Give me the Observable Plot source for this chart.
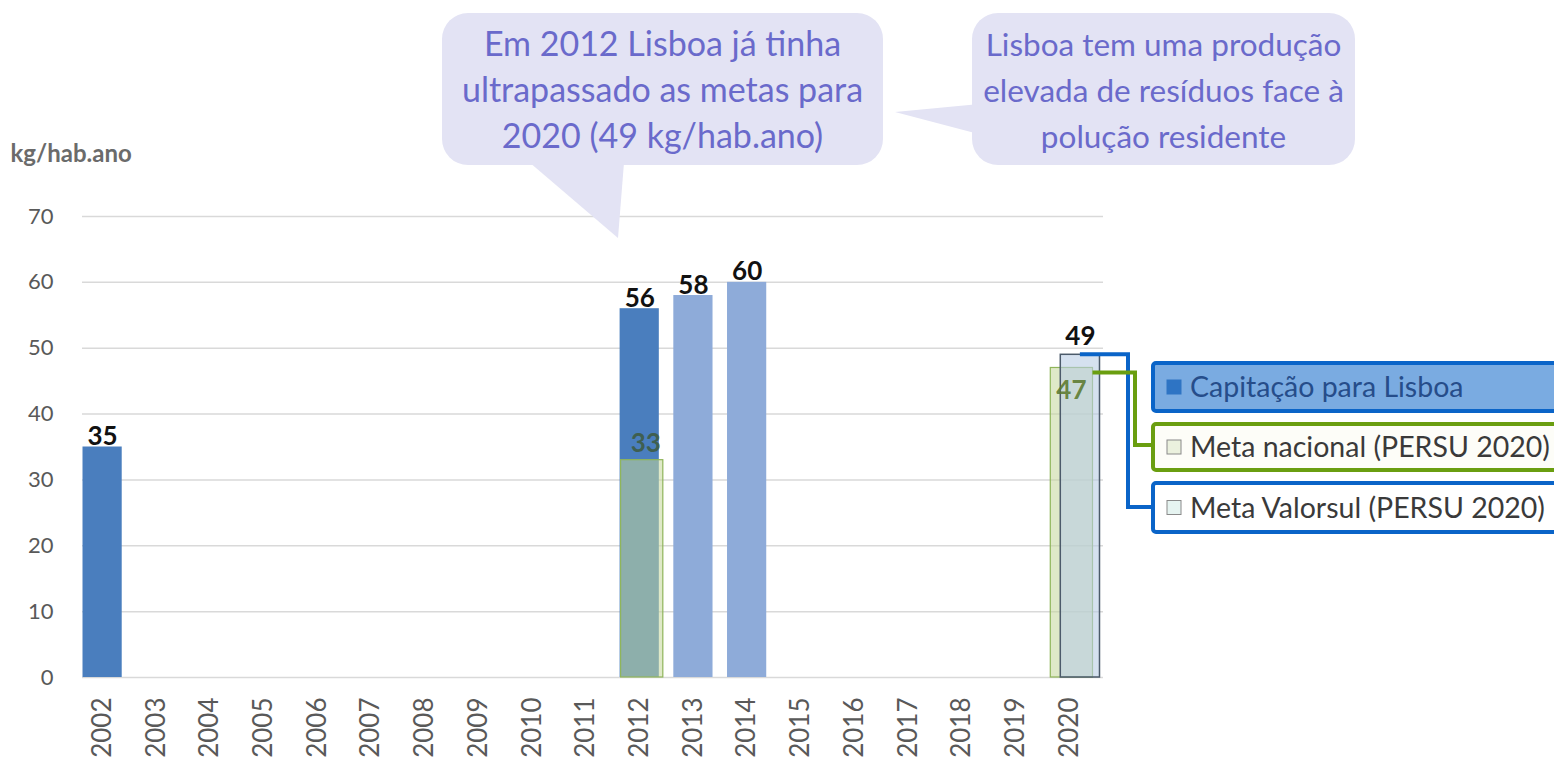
<!DOCTYPE html>
<html><head><meta charset="utf-8">
<script src="https://cdn.jsdelivr.net/npm/d3@7"></script>
<script src="https://cdn.jsdelivr.net/npm/@observablehq/plot@0.6"></script>
<style>
body{margin:0;background:#fff;}
#wrap{position:relative;width:1554px;height:767px;overflow:hidden;}
#wrap svg{position:absolute;left:0;top:0;}
</style></head><body><div id="wrap"></div>
<script>
// ---- data ----
const years = ["2002","2003","2004","2005","2006","2007","2008","2009","2010","2011","2012","2013","2014","2015","2016","2017","2018","2019","2020"];
const capitacaoYears = ["2002","2012"];
const capitacaoValues = [35, 56];
const capitacaoEstYears = ["2013","2014"];
const capitacaoEstValues = [58, 60];
const metaNacionalYears = ["2012","2020"];
const metaNacionalValues = [33, 47];
const metaValorsulYears = ["2020"];
const metaValorsulValues = [49];
const yTicks = [0,10,20,30,40,50,60,70];
const unitLabel = "kg/hab.ano";
const legendLabels = ["Capitação para Lisboa","Meta nacional (PERSU 2020)","Meta Valorsul (PERSU 2020)"];
const callout1Lines = ["Em 2012 Lisboa já tinha","ultrapassado as metas para","2020 (49 kg/hab.ano)"];
const callout2Lines = ["Lisboa tem uma produção","elevada de resíduos face à","polução residente"];

const rows = (ys, vs) => ys.map((y,i)=>({year:y, value:vs[i]}));
const cap = rows(capitacaoYears, capitacaoValues);
const capEst = rows(capitacaoEstYears, capitacaoEstValues);
const nac = rows(metaNacionalYears, metaNacionalValues);
const val = rows(metaValorsulYears, metaValorsulValues);

const FONT = "Lato, 'Open Sans', sans-serif";

const plot = Plot.plot({
  width:1554, height:767,
  marginTop:216, marginBottom:90, marginLeft:82, marginRight:451,
  style:{fontFamily:FONT, background:"transparent", overflow:"visible"},
  x:{type:"band", domain:years, range:[68,1103], padding:0.27, round:false},
  y:{domain:[0,70]},
  marks:[
    Plot.gridY(yTicks,{stroke:"#d9d9d9", strokeOpacity:1, strokeWidth:1.5}),
    Plot.axisY(yTicks,{tickSize:0, tickPadding:29, fontSize:22, fill:"#595959", label:null}),
    Plot.axisX({tickSize:0, tickPadding:20, tickRotate:-90, fontSize:26, fill:"#595959", label:null}),
    Plot.barY(cap,{x:"year", y:"value", fill:"#4a7ebe"}),
    Plot.barY(capEst,{x:"year", y:"value", fill:"#8eabd9"}),
    Plot.barY(nac,{x:"year", y:"value", fill:"#c4d79b", fillOpacity:0.55, stroke:"#8fb55a", strokeWidth:1.2, insetLeft:1, insetRight:-4}),
    Plot.barY(val,{x:"year", y:"value", fill:"#b9cde5", fillOpacity:0.6, stroke:"#4b5a6a", strokeWidth:1.5, insetLeft:11, insetRight:-11}),
    Plot.text(cap.concat(capEst),{x:"year", y:"value", text:"value", lineAnchor:"bottom", dy:-2, fontSize:26, fontWeight:"bold", fill:"#111"}),
    Plot.text(val,{x:"year", y:"value", text:"value", lineAnchor:"bottom", dy:-10, dx:11, fontSize:26, fontWeight:"bold", fill:"#111"}),
    Plot.text(nac.filter(d=>d.year==="2012"),{x:"year", y:"value", text:"value", lineAnchor:"bottom", dy:-8, dx:6, fontSize:26, fontWeight:"bold", fill:"#3d5a3c", fillOpacity:0.85}),
    Plot.text(nac.filter(d=>d.year==="2020"),{x:"year", y:"value", text:"value", lineAnchor:"top", dy:13, dx:2, fontSize:26, fontWeight:"bold", fill:"#5c7a2e", fillOpacity:0.9}),
    Plot.text([unitLabel],{frameAnchor:"top-left", text:d=>d, dx:-72, dy:-72, textAnchor:"start", fontSize:24, fontWeight:"bold", fill:"#6b6b6b"})
  ]
});
const wrap = document.getElementById("wrap");
wrap.appendChild(plot);

const xs = plot.scale("x"), ys = plot.scale("y");
const bw = xs.bandwidth;
const valX = xs.apply("2020") + 11 + (bw)/2;
const valY = ys.apply(metaValorsulValues[0]);
const nacRight = xs.apply("2020") + bw + 4;
const nacY = ys.apply(metaNacionalValues[1]) + 5;

const NS = "http://www.w3.org/2000/svg";
const ov = d3.select(wrap).append("svg").attr("xmlns",NS).attr("width",1554).attr("height",767)
  .style("font-family",FONT);

// callouts
const cfill = "#e3e3f4", ctext = "#6a6acb";
function callout(x,y,w,h,tail,lines,fs){
  ov.append("polygon").attr("points",tail.map(p=>p.join(",")).join(" ")).attr("fill",cfill);
  ov.append("rect").attr("x",x).attr("y",y).attr("width",w).attr("height",h).attr("rx",26).attr("fill",cfill);
  lines.forEach((t,i)=>{
    ov.append("text").attr("x",x+w/2).attr("y",y+43+i*46).attr("text-anchor","middle")
      .attr("font-size",fs).attr("fill",ctext).text(t);
  });
}
callout(442,13,441,152,[[515,150],[618,238],[625,150]],callout1Lines,34);
callout(972,13,383,152,[[990,103],[895,112],[990,137]],callout2Lines,31.5);

// connectors
ov.append("path").attr("d",`M${valX},${valY}H1128V507H1153`).attr("fill","none").attr("stroke","#0a64c8").attr("stroke-width",4);
ov.append("path").attr("d",`M${nacRight},${nacY}H1135V445H1153`).attr("fill","none").attr("stroke","#6a9e10").attr("stroke-width",4);

// legend boxes
const boxes = [
  {y:363,h:48,fill:"#7aabe1",stroke:"#0a64c8",sq:"#2e74c4",sqs:"#2e74c4",tc:"#264d8a"},
  {y:424,h:46,fill:"#fdfdf8",stroke:"#6a9e10",sq:"#ebf1de",sqs:"#8a8a8a",tc:"#3a3a3a"},
  {y:483,h:49,fill:"#ffffff",stroke:"#0a64c8",sq:"#e6f4f1",sqs:"#8a8a8a",tc:"#3a3a3a"}
];
boxes.forEach((b,i)=>{
  ov.append("rect").attr("x",1153).attr("y",b.y).attr("width",430).attr("height",b.h).attr("rx",3)
    .attr("fill",b.fill).attr("stroke",b.stroke).attr("stroke-width",4);
  ov.append("rect").attr("x",1167).attr("y",b.y+b.h/2-7).attr("width",14).attr("height",14)
    .attr("fill",b.sq).attr("stroke",b.sqs).attr("stroke-width",1);
  ov.append("text").attr("x",1190).attr("y",b.y+b.h/2+10).attr("font-size",28.5).attr("fill",b.tc).text(legendLabels[i]);
});
</script></body></html>
